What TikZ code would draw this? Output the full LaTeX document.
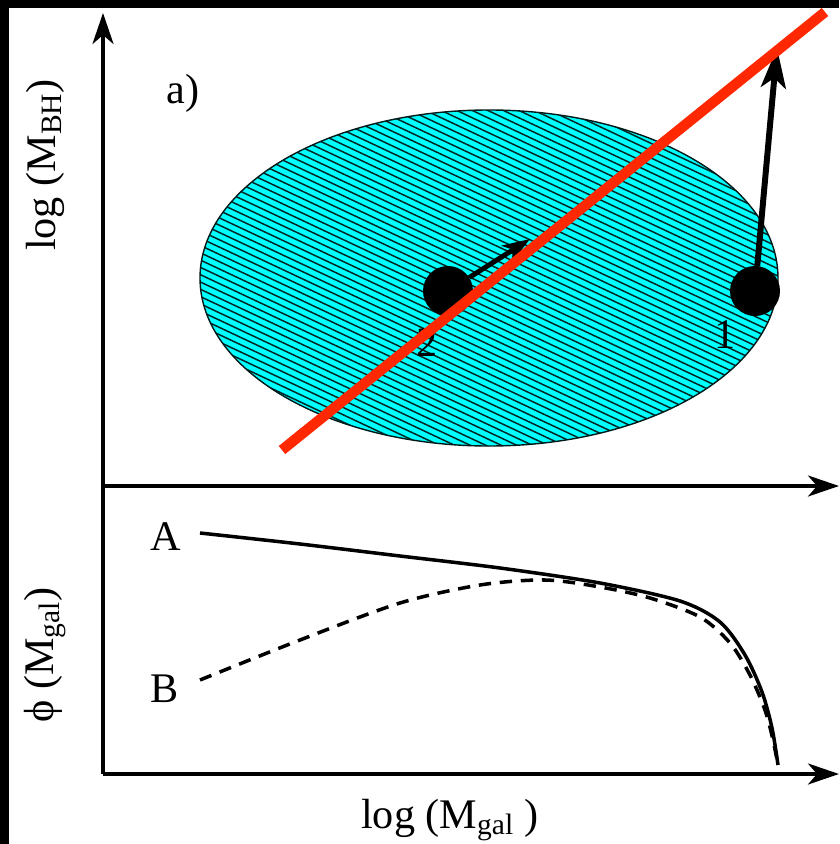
\documentclass[tikz,border=0pt]{standalone}
\usepackage{fontspec}
\setmainfont{Liberation Serif}
\usetikzlibrary{arrows.meta,positioning}
\definecolor{scatcyan}{RGB}{0,255,255}
\definecolor{fitred}{RGB}{255,40,0}
\tikzset{axis/.style={line width=2pt,-{Stealth[length=6.2mm,width=4.2mm,inset=1.8mm]}},
  vec/.style={line width=3.4pt,-{Stealth[length=8mm,width=5mm,inset=2mm]}},
  smallvec/.style={line width=2.8pt,-{Stealth[length=5.5mm,width=3.8mm,inset=1.5mm]}},
  dot/.style={circle,fill=black,minimum size=1cm,inner sep=0pt},
  hatch/.style={line width=0.85pt,draw=teal!30!black},
  fitline/.style={line width=5.9pt,draw=fitred},
  lf/.style={line width=2pt}}

\begin{document}
\begin{tikzpicture}[x=0.2mm,y=-0.2mm,font=\fontsize{24}{28}\selectfont]
\useasboundingbox (0,0) rectangle (839,844);
\fill[white] (0,0) rectangle (839,844);
\fill[black] (0,0) rectangle (839,8);
\fill[black] (0,0) rectangle (9,844);
\coordinate (o) at (103,774);
\coordinate (ytip) at (103,13);
\coordinate (mid) at (103,486);
\coordinate (xtip) at (839,486);
\coordinate (btip) at (839,774);
\draw[axis] (o) -- (ytip);
\draw[axis] (mid) -- (xtip);
\draw[axis] (o) -- (btip);
\fill[scatcyan] (489,278) ellipse [x radius=289,y radius=168];
\begin{scope}
\clip (489,278) ellipse [x radius=289,y radius=168];
\foreach \k in {0,...,100}
  \draw[hatch] (150,{-260+7.3*\k}) -- (850,{69+7.3*\k});
\end{scope}
\draw[teal!20!black,line width=0.8pt] (489,278) ellipse [x radius=289,y radius=168];
\node[dot] (g1) at (755,291) {};
\node[dot] (g2) at (448,291) {};
\coordinate (t1) at (777,48);
\coordinate (t2) at (530,239);
\draw[vec] (g1) -- (t1);
\draw[smallvec] (g2) -- (t2);
\node (n1) at (725,335) {1};
\node (n2) at (427,343) {2};
\coordinate (r0) at (282,450);
\coordinate (r1) at (825,12);
\draw[fitline] (r0) -- (r1);
\node (alab) at (183,93) {a)};
\node[rotate=90] (ylab) at (45,165) {log (M\textsubscript{BH})};
\node[rotate=90] (philab) at (45,655) {ϕ (M\textsubscript{gal})};
\node (xlab) at (450,820) {log (M\textsubscript{gal} )};
\node (la) at (166,537) {A};
\node (lb) at (165,689) {B};
\draw[lf] plot[smooth] coordinates {(200,533) (300,544) (400,556) (500,568) (600,583) (680,601) (720,622) (745,655) (762,692) (772,728) (778,765)};
\draw[lf,dash pattern=on 7pt off 5pt] plot[smooth] coordinates {(200,680) (300,640) (400,603) (480,585) (545,580) (600,587) (650,598) (700,617) (730,643) (750,675) (765,710) (773,740) (778,765)};
\end{tikzpicture}
\end{document}
